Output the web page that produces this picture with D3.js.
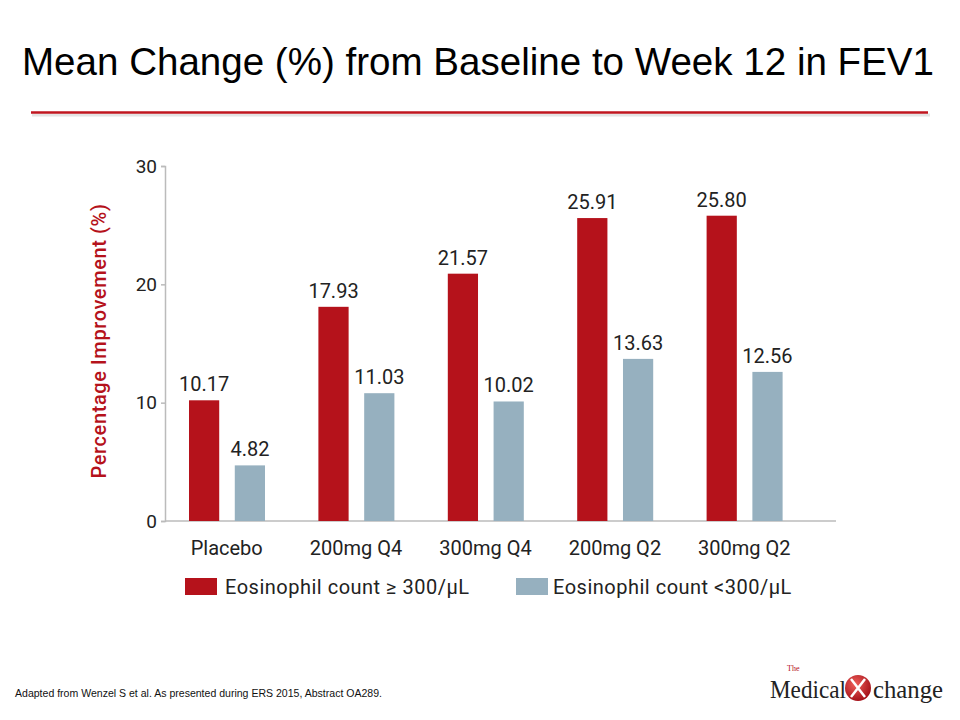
<!DOCTYPE html>
<html>
<head>
<meta charset="utf-8">
<script src="https://cdn.jsdelivr.net/npm/d3@7"></script>
<style>
  body {margin: 0; background: #fff;}
  svg text {font-family: Roboto, "Noto Sans", sans-serif;}
  svg text.serif {font-family: "Liberation Serif", "DejaVu Serif", serif;}
</style>
</head>
<body>
<div id="chart"></div>
<script>
// doses along the x axis
var doses = ["Placebo", "200mg Q4", "300mg Q4", "200mg Q2", "300mg Q2"]
var seriesNames = ["Eosinophil count \u2265 300/\u03bcL", "Eosinophil count <300/\u03bcL"]
// printed values above the bars
var highEosLabels = ["10.17", "17.93", "21.57", "25.91", "25.80"]
var lowEosLabels = ["4.82", "11.03", "10.02", "13.63", "12.56"]
// bar heights as drawn on the slide (not always equal to the printed value)
var highEosBars = [10.2, 18.1, 20.9, 25.6, 25.8]
var lowEosBars = [4.7, 10.8, 10.1, 13.7, 12.6]
var yTicks = [0, 10, 20, 30]

var red = "#b5121b"
var blue = "#96b0bf"

var svg = d3.select("#chart").append("svg")
            .attr("width", 960)
            .attr("height", 720)

// title + rule
svg.append("text")
   .attr("x", 478).attr("y", 75)
   .attr("text-anchor", "middle")
   .style("font-family", "'Liberation Sans', Arial, sans-serif")
   .style("font-size", "39px")
   .attr("textLength", 912).attr("lengthAdjust", "spacingAndGlyphs")
   .attr("fill", "#000")
   .text("Mean Change (%) from Baseline to Week 12 in FEV1")

svg.append("line")
   .attr("x1", 32).attr("x2", 930).attr("y1", 115).attr("y2", 115)
   .attr("stroke", "#e4e4e4").attr("stroke-width", 3)
svg.append("line")
   .attr("x1", 31).attr("x2", 928).attr("y1", 112.5).attr("y2", 112.5)
   .attr("stroke", "#c0161f").attr("stroke-width", 2.5)

var y = d3.scaleLinear().domain([0, 30]).range([521, 166])
var x = d3.scaleBand().domain(doses).range([162, 809])
var x1 = d3.scaleBand().domain([0, 1]).range([27, 103]).paddingInner(0.34)

var yAxis = svg.append("g")
   .attr("transform", "translate(165,0)")
   .call(d3.axisLeft(y).tickValues(yTicks).tickSize(4).tickPadding(4))
yAxis.select(".domain").attr("stroke", "#bbb").attr("stroke-width", 1.5)
yAxis.selectAll(".tick line").attr("stroke", "#bbb").attr("stroke-width", 1.5)
yAxis.selectAll(".tick text")
     .attr("fill", "#222")
     .style("font-size", "19px")

svg.append("line")
   .attr("x1", 165).attr("x2", 836).attr("y1", y(0)).attr("y2", y(0))
   .attr("stroke", "#bbb").attr("stroke-width", 1.5)

svg.append("text")
   .attr("transform", "translate(106,341) rotate(-90)")
   .attr("text-anchor", "middle")
   .attr("fill", red)
   .style("font-size", "20px")
   .style("font-weight", 500)
   .style("letter-spacing", "0.6px")
   .text("Percentage Improvement (%)")

var series = [
  {color: red, bars: highEosBars, labels: highEosLabels},
  {color: blue, bars: lowEosBars, labels: lowEosLabels}
]

series.forEach(function(s, si) {
  var g = svg.append("g")
  g.selectAll("rect").data(doses).enter().append("rect")
   .attr("x", d => x(d) + x1(si))
   .attr("width", x1.bandwidth())
   .attr("y", (d, i) => y(s.bars[i]))
   .attr("height", (d, i) => y(0) - y(s.bars[i]))
   .attr("fill", s.color)
  g.selectAll("text").data(doses).enter().append("text")
   .attr("x", d => x(d) + x1(si) + x1.bandwidth() / 2)
   .attr("y", (d, i) => y(s.bars[i]) - 9)
   .attr("text-anchor", "middle")
   .attr("fill", "#222")
   .style("font-size", "20px")
   .text((d, i) => s.labels[i])
})

svg.append("g").selectAll("text").data(doses).enter().append("text")
   .attr("x", d => x(d) + x.bandwidth() / 2)
   .attr("y", 555)
   .attr("text-anchor", "middle")
   .attr("fill", "#222")
   .style("font-size", "20px")
   .text(d => d)

// legend
var legendX = [185, 516]
var legend = svg.append("g").selectAll("g").data(seriesNames).enter().append("g")
   .attr("transform", (d, i) => "translate(" + legendX[i] + ",578)")
legend.append("rect")
   .attr("width", 32).attr("height", 17)
   .attr("fill", (d, i) => series[i].color)
legend.append("text")
   .attr("x", (d, i) => i == 0 ? 40 : 37)
   .attr("y", 16)
   .attr("fill", "#222")
   .style("font-size", "20px")
   .style("letter-spacing", "0.5px")
   .text(d => d)

// footnote
svg.append("text")
   .attr("x", 15).attr("y", 697)
   .style("font-family", "'Liberation Sans', Arial, sans-serif")
   .style("font-size", "11px")
   .attr("textLength", 367).attr("lengthAdjust", "spacingAndGlyphs")
   .attr("fill", "#111")
   .text("Adapted from Wenzel S et al. As presented during ERS 2015, Abstract OA289.")

// logo
var logo = svg.append("g")
logo.append("text").attr("class", "serif").attr("x", 787).attr("y", 671)
    .attr("fill", red).style("font-size", "8px").text("The")
logo.append("text").attr("class", "serif").attr("x", 770).attr("y", 698)
    .attr("fill", "#222").style("font-size", "26px")
    .attr("textLength", 76).attr("lengthAdjust", "spacingAndGlyphs")
    .text("Medical")
var grad = svg.append("defs").append("radialGradient").attr("id", "xball")
   .attr("cx", "40%").attr("cy", "35%").attr("r", "65%")
grad.append("stop").attr("offset", "0%").attr("stop-color", "#f0605a")
grad.append("stop").attr("offset", "100%").attr("stop-color", "#a5121a")
logo.append("circle").attr("cx", 858).attr("cy", 688).attr("r", 13).attr("fill", "url(#xball)")
logo.append("path")
    .attr("d", "M851,679 L865,697 M865,679 L851,697")
    .attr("stroke", "#fff").attr("stroke-width", 2.5).attr("fill", "none")
logo.append("text").attr("class", "serif").attr("x", 873).attr("y", 698)
    .attr("fill", "#222").style("font-size", "26px")
    .attr("textLength", 70).attr("lengthAdjust", "spacingAndGlyphs")
    .text("change")
</script>
</body>
</html>
